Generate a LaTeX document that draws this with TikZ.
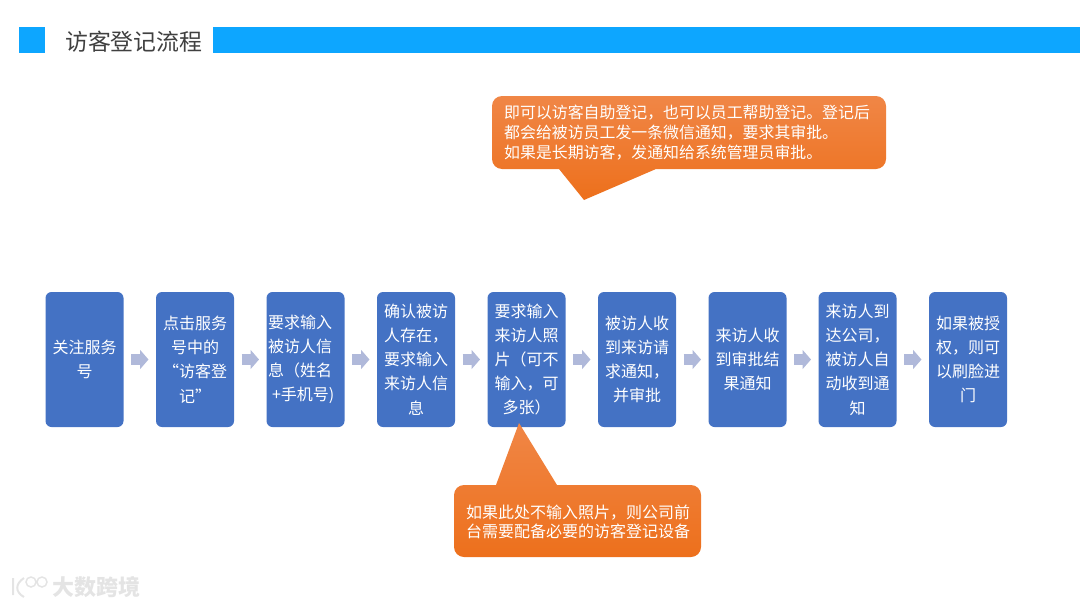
\documentclass[tikz,border=0pt]{standalone}
\usepackage{fontspec}
\setmainfont{Noto Sans CJK SC}
\usepackage{tikz}
\usetikzlibrary{arrows.meta,fit,backgrounds}
\definecolor{titlegray}{RGB}{64,64,64}
\definecolor{barblue}{RGB}{13,166,255}
\definecolor{stepblue}{RGB}{68,114,196}
\definecolor{flowtint}{RGB}{176,185,218}
\definecolor{notelight}{RGB}{240,134,70}
\definecolor{notedark}{RGB}{237,112,28}
\definecolor{marktint}{RGB}{228,228,228}
\tikzset{
  etape/.style={fill=stepblue, text=white, rounded corners=6pt, align=center,
    font=\fontsize{16}{24.2}\selectfont, inner sep=0pt, outer sep=0pt,
    minimum width=78pt, minimum height=135pt},
  fleche/.style={draw=flowtint, line width=11pt, -{Triangle[length=8.5pt,width=19pt]},
    shorten <=7.5pt, shorten >=7.5pt},
  bulle/.style={top color=notelight, bottom color=notedark, draw=none},
  bulletexte/.style={text=white, align=left, anchor=west, inner sep=0pt},
  bande/.style={fill=barblue, draw=none},
}
\begin{document}
\begin{tikzpicture}[x=1pt,y=-1pt]
    \useasboundingbox (0,0) rectangle (1080,608);
    % en-tete
    \fill[bande] (19,27) rectangle (45,53);
    \fill[bande] (213,27) rectangle (1080,53);
    \node[anchor=west, inner sep=0pt, text=titlegray, font=\fontsize{22.9}{26}\selectfont] (titre) at (65,42) {访客登记流程};
    % etapes
    \node[etape] (follow)  at (84.5,359.5)  {关注服务\\号};
    \node[etape] (menu)    at (195,359.5)   {点击服务\\号中的\\“访客登\\记”};
    \node[etape, text width=75pt, align=left] (host) at (305.5,359.5) {要求输入\\被访人信\\息（姓名\\\hspace*{4pt}+手机号)};
    \node[etape] (check)   at (416,359.5)   {确认被访\\人存在，\\要求输入\\来访人信\\息};
    \node[etape] (photo)   at (526.5,359.5) {要求输入\\来访人照\\片（可不\\输入，可\\多张）};
    \node[etape] (notify)  at (637,359.5)   {被访人收\\到来访请\\求通知，\\并审批};
    \node[etape] (result)  at (747.5,359.5) {来访人收\\到审批结\\果通知};
    \node[etape] (arrive)  at (857.5,359.5) {来访人到\\达公司，\\被访人自\\动收到通\\知};
    \node[etape] (face)    at (968,359.5)   {如果被授\\权，则可\\以刷脸进\\门};
    % fleches
    \draw[fleche] (follow) -- (menu);
    \draw[fleche] (menu) -- (host);
    \draw[fleche] (host) -- (check);
    \draw[fleche] (check) -- (photo);
    \draw[fleche] (photo) -- (notify);
    \draw[fleche] (notify) -- (result);
    \draw[fleche] (result) -- (arrive);
    \draw[fleche] (arrive) -- (face);
    % bulles
    \shade[bulle, rounded corners=10pt] (492,96) -- (886,96) -- (886,169) [sharp corners] -- (656,169) -- (584,200) -- (559,169) [rounded corners=10pt] -- (492,169) -- cycle;
    \node[bulletexte, font=\fontsize{15.9}{19.7}\selectfont] (noteA) at (504,132.5) {即可以访客自助登记，也可以员工帮助登记。登记后\\都会给被访员工发一条微信通知，要求其审批。\\如果是长期访客，发通知给系统管理员审批。};
    \shade[bulle, rounded corners=10pt] (454,485) [sharp corners] -- (496,485) -- (519,423) -- (557,485) [rounded corners=10pt] -- (701,485) -- (701,557) -- (454,557) -- cycle;
    \node[bulletexte, font=\fontsize{16}{19.5}\selectfont] (noteB) at (466,522) {如果此处不输入照片，则公司前\\台需要配备必要的访客登记设备};
    % filigrane
    \draw[marktint, line width=2pt] (13,578) -- (13,595) (24,578) .. controls (15,584) and (15,592) .. (24,597);
    \draw[marktint, line width=1.5pt] (31,582) circle (5pt) (42,582) circle (5pt);
    \node[anchor=west, inner sep=0pt, text=marktint, font=\fontsize{22}{24}\selectfont\bfseries] (marque) at (52,587) {大数跨境};
\end{tikzpicture}
\end{document}
